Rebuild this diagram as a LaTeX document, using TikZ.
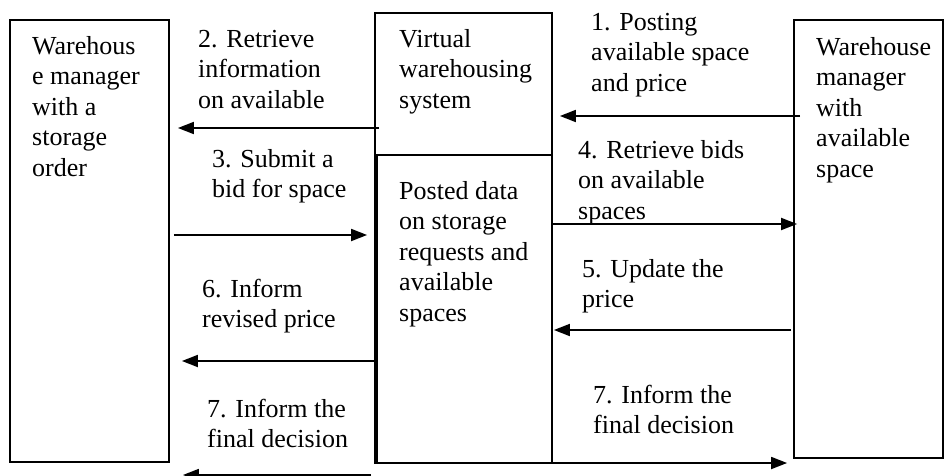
\documentclass[tikz,border=0pt]{standalone}
\usepackage{fontspec}
\setmainfont{Liberation Serif}
\usetikzlibrary{arrows.meta}
\begin{document}
\begin{tikzpicture}[x=1pt,y=-1pt,
  box/.style={draw, line width=1.8pt, inner sep=0pt},
  arr/.style={line width=1.8pt, -{Triangle[length=16pt,width=12pt]}},
  lbl/.style={anchor=north west, inner sep=0pt, align=left, font=\fontsize{26}{30.5}\selectfont}]
\useasboundingbox (0,0) rectangle (944,476);
% boxes
\node[box, minimum width=159pt, minimum height=442pt] (lm) at (89.5,241) {};
\node[box, minimum width=177pt, minimum height=450pt] (vw) at (463.5,238) {};
\node[box, minimum width=175pt, minimum height=308pt] (pd) at (464.5,309) {};
\node[box, minimum width=149pt, minimum height=438pt] (rm) at (868.5,239) {};
% box texts
\node[lbl] (tlm) at (32,32.65) {\strut Warehous\\e manager\\with a\\storage\\order};
\node[lbl] (trm) at (816,33.65) {\strut Warehouse\\manager\\with\\available\\space};
\node[lbl] (tvw) at (399,25.65) {\strut Virtual\\warehousing\\system};
\node[lbl] (tpd) at (399,177.65) {\strut Posted data\\on storage\\requests and\\available\\spaces};
% connector labels
\node[lbl] (l1) at (591,8.65) {\strut 1. Posting\\available space\\and price};
\node[lbl] (l2) at (198,25.65) {\strut 2. Retrieve\\information\\on available};
\node[lbl] (l3) at (212,145.65) {\strut 3. Submit a\\bid for space};
\node[lbl] (l4) at (578,136.65) {\strut 4. Retrieve bids\\on available\\spaces};
\node[lbl] (l5) at (582,255.65) {\strut 5. Update the\\price};
\node[lbl] (l6) at (202,275.65) {\strut 6. Inform\\revised price};
\node[lbl] (l7a) at (207,395.65) {\strut 7. Inform the\\final decision};
\node[lbl] (l7b) at (593,381.65) {\strut 7. Inform the\\final decision};
% connectors
\draw[arr, shorten <=-7pt, shorten >=7pt] (rm.west |- 0,116) -- (vw.east |- 0,116);
\draw[arr, shorten <=-5pt, shorten >=8pt] (vw.west |- 0,128) -- (lm.east |- 0,128);
\draw[arr, shorten <=4pt, shorten >=9pt] (lm.east |- 0,235) -- (pd.west |- 0,235);
\draw[arr, shorten >=-4pt] (pd.east |- 0,224) -- (rm.west |- 0,224);
\draw[arr, shorten <=2pt, shorten >=1pt] (rm.west |- 0,330) -- (pd.east |- 0,330);
\draw[arr, shorten <=2pt, shorten >=12pt] (pd.west |- 0,361) -- (lm.east |- 0,361);
\draw[arr, shorten <=5pt, shorten >=13pt] (pd.west |- 0,475) -- (lm.east |- 0,475);
\draw[arr, shorten >=6pt] (pd.east |- 0,463) -- (rm.west |- 0,463);
\end{tikzpicture}
\end{document}
